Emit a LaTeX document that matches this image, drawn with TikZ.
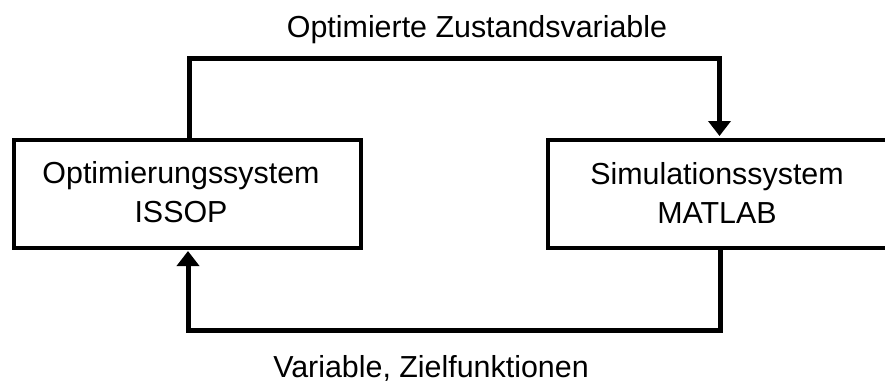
\documentclass[tikz,border=0pt]{standalone}
\usepackage{fontspec}
\setmainfont{Liberation Sans}
\usetikzlibrary{arrows.meta}
\tikzset{
  box/.style={draw=black, line width=4pt, rectangle, inner sep=0pt},
  boxtext/.style={align=center, inner sep=0pt, font=\fontsize{30.4}{39}\selectfont},
  lbl/.style={inner sep=0pt, anchor=base, font=\fontsize{30.4}{36}\selectfont},
  conn/.style={draw=black, line width=5pt, line join=miter},
  tip/.style={-{Triangle[width=22pt,length=15pt]}}
}
\begin{document}
\begin{tikzpicture}[x=1pt,y=-1pt]
\useasboundingbox (0,0) rectangle (885,383);
\node[box, minimum width=347pt, minimum height=108pt] (lbox) at (187.5,193.5) {};
\node[box, minimum width=346pt, minimum height=108pt] (rbox) at (721,193.5) {};
\node[boxtext] (ltext) at (181,192.5) {Optimierungssystem\\ISSOP};
\node[boxtext] (rtext) at (717,192.5) {Simulationssystem\\MATLAB};
\node[lbl] (toplbl) at (477,37) {Optimierte Zustandsvariable};
\node[lbl] (botlbl) at (431,377) {Variable, Zielfunktionen};
\coordinate (t1) at (189,58.3);
\coordinate (t2) at (719.5,58.3);
\coordinate (b1) at (720,330.5);
\coordinate (b2) at (188,330.5);
\draw[conn,tip] (lbox.north -| t1) -- (t1) -- (t2) -- ([yshift=1.5pt]rbox.north -| t2);
\draw[conn,tip] (rbox.south -| b1) -- (b1) -- (b2) -- ([yshift=-1.5pt]lbox.south -| b2);
\end{tikzpicture}
\end{document}
